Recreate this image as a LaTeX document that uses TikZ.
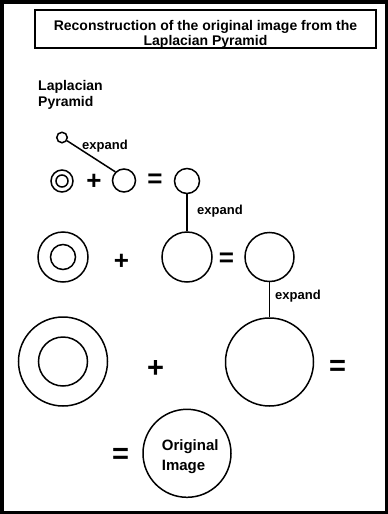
\documentclass[tikz,border=0pt]{standalone}
\usepackage{fontspec}
\setmainfont{Liberation Sans}
\begin{document}
\begin{tikzpicture}[x=1pt,y=-1pt,
  ring/.style={draw, circle, inner sep=0pt, line width=1.5pt},
  link/.style={line width=1.5pt},
  txt/.style={inner sep=0pt, font=\bfseries\fontsize{13}{15}\selectfont},
  opsmall/.style={inner sep=0pt, font=\bfseries\fontsize{26}{26}\selectfont},
  opbig/.style={inner sep=0pt, font=\bfseries\fontsize{29}{29}\selectfont}]
\useasboundingbox (0,0) rectangle (388,514);
% outer frame
\draw[line width=3.5pt] (1.75,1.75) rectangle (386.25,512.25);
% title box
\node[draw, line width=1.6pt, minimum width=341pt, minimum height=38pt, inner sep=0pt] (title) at (205.5,29) {};
\node[txt, align=center, anchor=base, font=\bfseries\fontsize{14}{14.5}\selectfont] (titletext) at (205.5,45) {Reconstruction of the original image from the\\Laplacian Pyramid};
% side heading
\node[txt, align=left, anchor=base west, font=\bfseries\fontsize{14}{16}\selectfont] (heading) at (38,106) {Laplacian\\Pyramid};

% top level
\node[ring, minimum size=10.5pt] (tiny) at (62,137.5) {};
\node[ring, minimum size=22pt] (a1) at (62,181) {};
\node[ring, minimum size=12pt] (a1in) at (62,181) {};
\node[opsmall] (plus1) at (94,181.7) {+};
\node[ring, minimum size=23pt] (b1) at (124,180.5) {};
\node[opsmall] (eq1) at (155,181) {=};
\node[ring, minimum size=25pt] (c1) at (187,181) {};
\draw[link] (tiny) -- (b1.north west);
\node[txt, anchor=base west] (exp1) at (82,149.5) {expand};

% middle level
\node[ring, minimum size=50pt] (a2) at (63,257) {};
\node[ring, minimum size=25pt] (a2in) at (63,257) {};
\node[opsmall] (plus2) at (121.5,261.5) {+};
\node[ring, minimum size=50pt] (b2) at (187,257) {};
\node[opsmall] (eq2) at (226.5,260) {=};
\node[ring, minimum size=49pt] (c2) at (269.5,257) {};
\draw[link] (c1) -- (b2);
\node[txt, anchor=base west] (exp2) at (197,214.5) {expand};

% bottom level
\node[ring, minimum size=89pt] (a3) at (63,361.5) {};
\node[ring, minimum size=49pt] (a3in) at (63,361.5) {};
\node[opbig] (plus3) at (155.5,368.5) {+};
\node[ring, minimum size=88pt] (b3) at (269.5,362) {};
\node[opbig] (eq3) at (337.5,367.5) {=};
\draw[link] (c2) -- (b3);
\node[txt, anchor=base west] (exp3) at (275,299) {expand};

% result
\node[opbig] (eq4) at (120.5,456) {=};
\node[ring, minimum size=88pt] (orig) at (187,453.3) {};
\node[txt, align=left, font=\bfseries\fontsize{15}{20.7}\selectfont, anchor=base west] (origtext) at (161.7,470.7) {Original\\Image};
\end{tikzpicture}
\end{document}
